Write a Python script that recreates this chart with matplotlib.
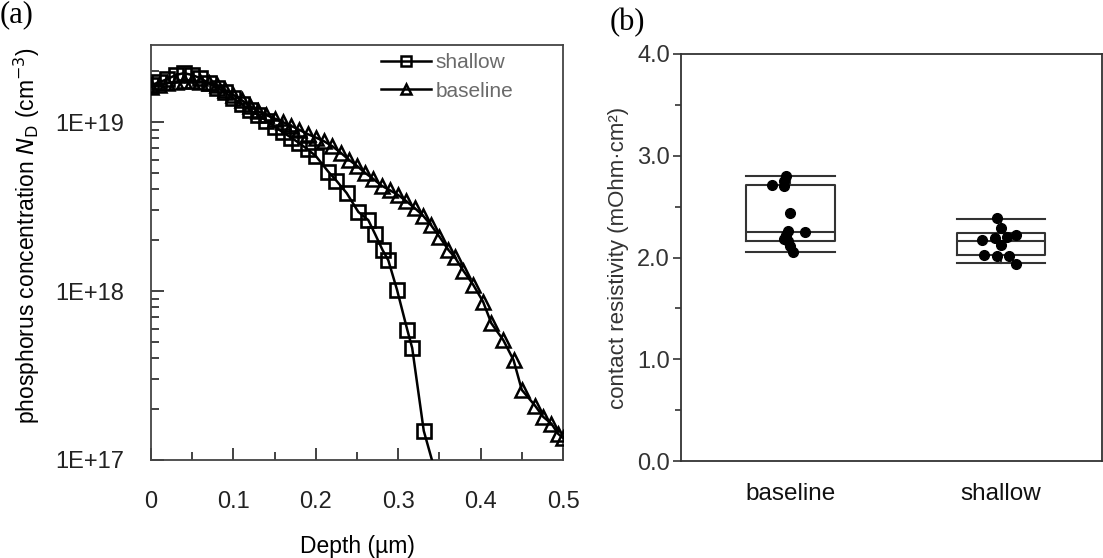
import matplotlib
matplotlib.use("Agg")
import matplotlib.pyplot as plt
import numpy as np
from matplotlib.ticker import FixedLocator, FixedFormatter, LogLocator, NullFormatter, MultipleLocator

plt.rcParams["font.family"] = ["Liberation Sans", "DejaVu Sans"]

# (a) doping profiles, depth in um, concentration in cm^-3
depth_shallow = [0.0, 0.01, 0.02, 0.03, 0.04, 0.05, 0.06, 0.07, 0.08, 0.09, 0.10,
                 0.11, 0.12, 0.13, 0.14, 0.15, 0.16, 0.17, 0.18, 0.19, 0.20, 0.215,
                 0.225, 0.2375, 0.2516, 0.2637, 0.272, 0.281, 0.288, 0.2985, 0.311,
                 0.317, 0.331]
conc_shallow = [1.66e19, 1.72e19, 1.8e19, 1.9e19, 1.95e19, 1.9e19, 1.82e19, 1.7e19,
                1.6e19, 1.5e19, 1.38e19, 1.28e19, 1.18e19, 1.1e19, 1.02e19, 9.4e18,
                8.7e18, 8.1e18, 7.5e18, 6.9e18, 6.3e18, 5.1e18, 4.5e18, 3.8e18,
                2.94e18, 2.63e18, 2.17e18, 1.75e18, 1.52e18, 1.02e18, 5.9e17,
                4.6e17, 1.49e17]
depth_shallow_end = 0.345
conc_shallow_end = 8.5e16

depth_baseline = [0.0, 0.01, 0.02, 0.03, 0.04, 0.05, 0.06, 0.07, 0.08, 0.09, 0.10,
                  0.11, 0.12, 0.13, 0.14, 0.15, 0.16, 0.17, 0.18, 0.19, 0.20, 0.21,
                  0.22, 0.23, 0.24, 0.25, 0.26, 0.27, 0.28, 0.29, 0.30, 0.31, 0.32,
                  0.33, 0.34, 0.35, 0.361, 0.369, 0.379, 0.391, 0.403, 0.413, 0.4275,
                  0.44, 0.45, 0.466, 0.476, 0.486, 0.494, 0.5]
conc_baseline = [1.62e19, 1.65e19, 1.7e19, 1.72e19, 1.75e19, 1.75e19, 1.73e19,
                 1.7e19, 1.65e19, 1.55e19, 1.45e19, 1.35e19, 1.25e19, 1.16e19,
                 1.1e19, 1.05e19, 1.0e19, 9.5e18, 9.0e18, 8.5e18, 8.1e18, 7.7e18,
                 7.2e18, 6.6e18, 6.0e18, 5.5e18, 5.0e18, 4.6e18, 4.2e18, 3.95e18,
                 3.7e18, 3.4e18, 3.1e18, 2.8e18, 2.45e18, 2.1e18, 1.75e18, 1.58e18,
                 1.32e18, 1.09e18, 8.65e17, 6.45e17, 5.13e17, 3.9e17, 2.6e17,
                 2.1e17, 1.8e17, 1.64e17, 1.43e17, 1.35e17]

# (b) contact resistivity, mOhm cm^2
groups = ["baseline", "shallow"]
rc_baseline = [2.80, 2.75, 2.71, 2.70, 2.44, 2.26, 2.25, 2.22, 2.18, 2.16, 2.11, 2.05]
rc_shallow = [2.39, 2.29, 2.22, 2.20, 2.19, 2.17, 2.12, 2.02, 2.01, 2.01, 1.94]
# box statistics: whislo, q1, med, q3, whishi
box_baseline = [2.05, 2.16, 2.25, 2.71, 2.80]
box_shallow = [1.95, 2.02, 2.16, 2.24, 2.38]

# horizontal scatter of dots around the box centre
jit_baseline = [-0.02, -0.03, -0.09, -0.03, 0.0, -0.01, 0.07, -0.02, -0.03, -0.01, 0.0, 0.01]
jit_shallow = [-0.02, 0.0, 0.07, 0.03, -0.03, -0.09, 0.0, -0.08, -0.02, 0.04, 0.07]

fig = plt.figure(figsize=(11.03, 5.58), dpi=100)

# ---------------- (a)
ax1 = fig.add_axes([151/1103, 98/558, 412/1103, 415/558])
ax1.plot(depth_shallow + [depth_shallow_end], conc_shallow + [conc_shallow_end],
         color="black", lw=1.8, zorder=3)
ax1.plot(depth_shallow, conc_shallow, ls="none", marker="s", ms=9.5, mfc="none",
         mec="black", mew=1.9, zorder=4)
ax1.plot(depth_baseline, conc_baseline, color="black", lw=1.8, marker="^", ms=9.5,
         mfc="none", mec="black", mew=1.8, zorder=3)
ax1.set_yscale("log")
ax1.set_xlim(0, 0.5)
ax1.set_ylim(1e17, 2.86e19)
ax1.xaxis.set_major_locator(FixedLocator([0, 0.1, 0.2, 0.3, 0.4, 0.5]))
ax1.xaxis.set_major_formatter(FixedFormatter(["0", "0.1", "0.2", "0.3", "0.4", "0.5"]))
ax1.xaxis.set_minor_locator(MultipleLocator(0.05))
ax1.yaxis.set_major_locator(FixedLocator([1e17, 1e18, 1e19]))
ax1.yaxis.set_major_formatter(FixedFormatter(["1E+17", "1E+18", "1E+19"]))
ax1.yaxis.set_minor_locator(LogLocator(base=10, subs=np.arange(2, 10)))
ax1.yaxis.set_minor_formatter(NullFormatter())
ax1.tick_params(which="both", direction="in", top=False, right=False,
                labelsize=17, colors="#222222", pad=19)
ax1.tick_params(axis="x", which="both", pad=22)
ax1.tick_params(which="major", length=9, width=1.2)
ax1.tick_params(which="minor", length=6, width=1.2)
for s in ax1.spines.values():
    s.set_color("#444444")
    s.set_linewidth(1.3)
ax1.set_xlabel("Depth (µm)", fontsize=16.5, labelpad=16)
ax1.set_ylabel(r"phosphorus concentration $\it{N}_{\rm D}$ (cm$^{-3}$)", fontsize=16.5)
ax1.yaxis.set_label_coords(-0.265, 0.54)

h1, = ax1.plot([], [], color="black", lw=1.8, marker="s", ms=7, mfc="none", mew=1.8)
h2, = ax1.plot([], [], color="black", lw=1.8, marker="^", ms=7, mfc="none", mew=1.8)
leg = ax1.legend([h1, h2], ["shallow", "baseline"], loc="upper right",
                 bbox_to_anchor=(0.925, 1.025), frameon=False, fontsize=15,
                 handlelength=2.4, handletextpad=0.2, labelspacing=0.45)
for t in leg.get_texts():
    t.set_color("#6a6a6a")

# ---------------- (b)
ax2 = fig.add_axes([681/1103, 97/558, 421/1103, 407/558])
pos = [1, 2]
stats = []
for name, b in zip(groups, [box_baseline, box_shallow]):
    stats.append(dict(label=name, whislo=b[0], q1=b[1], med=b[2], q3=b[3], whishi=b[4],
                      fliers=[]))
line_kw = dict(color="#333333", linewidth=1.5)
ax2.bxp(stats, positions=pos, widths=0.42, showfliers=False,
        boxprops=line_kw, medianprops=line_kw, whiskerprops=line_kw,
        capprops=line_kw, capwidths=0.42, manage_ticks=False)
for p, vals, jit in zip(pos, [rc_baseline, rc_shallow], [jit_baseline, jit_shallow]):
    ax2.plot(np.array(jit) + p, vals, ls="none", marker="o", ms=7, color="black", zorder=5)

ax2.set_xlim(0.48, 2.48)
ax2.set_ylim(0, 4)
ax2.set_xticks(pos)
ax2.set_xticklabels(groups)
ax2.yaxis.set_major_locator(MultipleLocator(1.0))
ax2.yaxis.set_minor_locator(MultipleLocator(0.5))
ax2.yaxis.set_major_formatter(plt.FuncFormatter(lambda v, p: "%.1f" % v))
ax2.tick_params(axis="y", which="both", direction="out", labelsize=17,
                colors="#333333", pad=2)
ax2.tick_params(axis="y", which="major", length=6, width=1.2)
ax2.tick_params(axis="y", which="minor", length=4, width=1.2)
ax2.tick_params(axis="x", length=0, labelsize=17.5, pad=16, colors="#111111")
for s in ax2.spines.values():
    s.set_color("#333333")
    s.set_linewidth(1.3)
ax2.set_ylabel("contact resistivity (mOhm·cm²)", fontsize=16, color="#333333",
               labelpad=6)

fig.text(0.0, 1.0, "(a)", family="Liberation Serif", fontsize=22, va="top", ha="left")
fig.text(610/1103, 0.985, "(b)", family="Liberation Serif", fontsize=22, va="top", ha="left")

fig.savefig("out.png", dpi=100)
